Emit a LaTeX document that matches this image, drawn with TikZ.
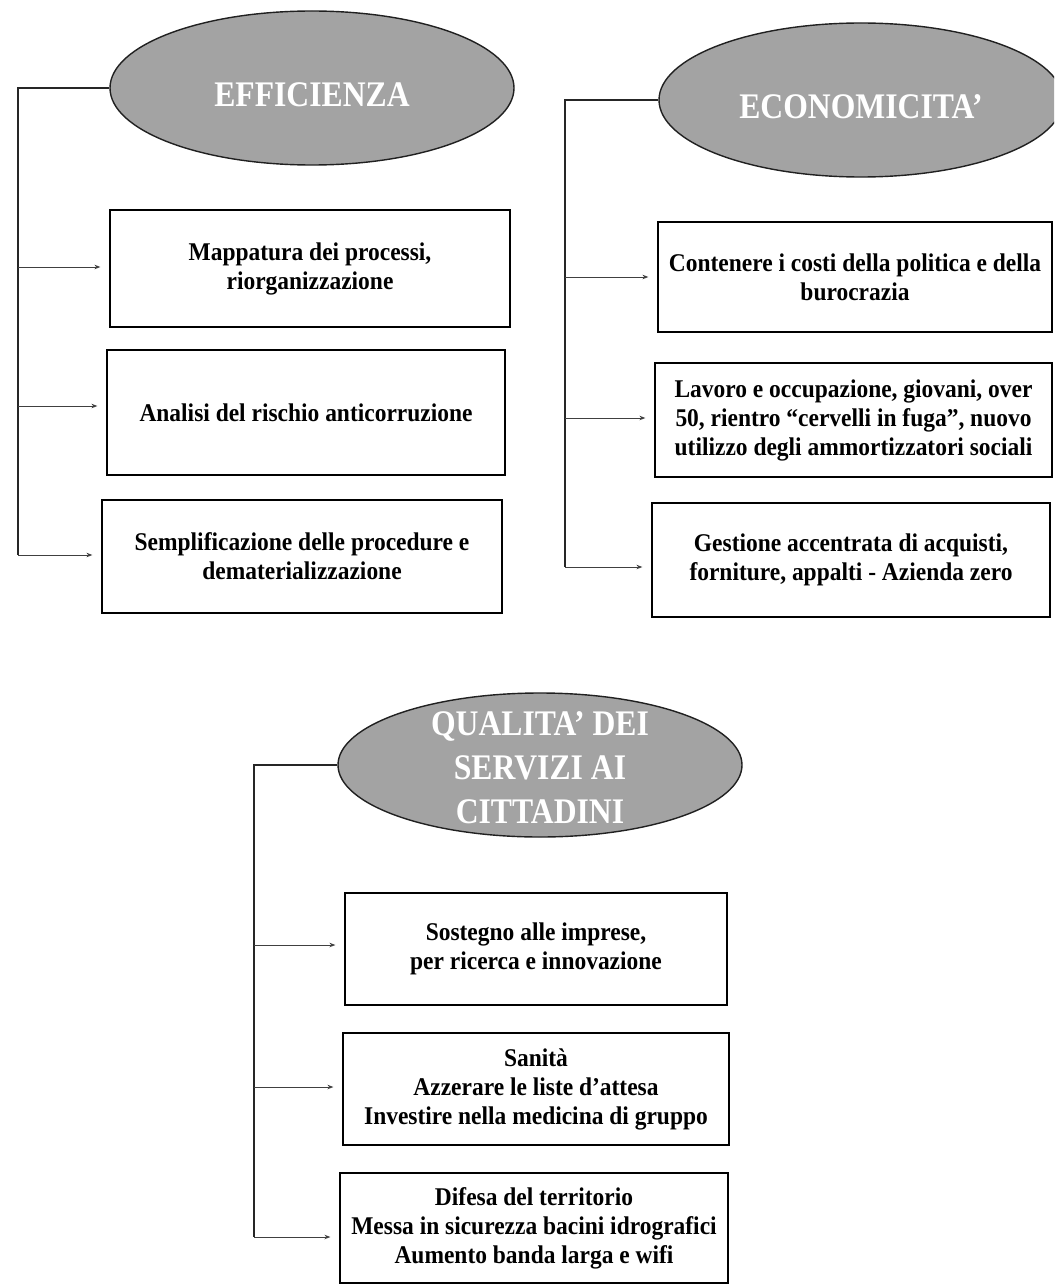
\documentclass[tikz,border=0pt]{standalone}
\usepackage{fontspec}
\setmainfont{Liberation Serif}
\newfontfamily\ovalfont[FakeStretch=0.88]{Liberation Serif}
\newfontfamily\boxfont[FakeStretch=0.92]{Liberation Serif}
\usetikzlibrary{shapes.geometric,arrows.meta}
\begin{document}
\begin{tikzpicture}[x=1pt,y=-1pt,
  oval/.style={ellipse, draw=gray!25!black, line width=1.4pt, fill=gray!72,
    text=white, font=\ovalfont\bfseries\fontsize{36}{44}\selectfont, align=center,
    inner sep=0pt, minimum width=404pt, minimum height=154pt},
  lowtext/.style={text height=38pt, text depth=0pt},
  item/.style={rectangle, draw=black, line width=1.2pt, align=center,
    font=\boxfont\bfseries\fontsize{25.5}{29}\selectfont, inner sep=0pt},
  link/.style={line width=1.1pt, draw=black!85},
  arr/.style={line width=1pt, draw=black!75, -{Stealth[length=6pt,width=4.5pt]}, shorten >=9pt}]
\useasboundingbox (0,0) rectangle (1054,1284);
\clip (0,0) rectangle (1054,1284);

% ---------- EFFICIENZA ----------
\node[oval, lowtext] (e1) at (312,88) {EFFICIENZA};
\node[item, minimum width=400pt, minimum height=117pt] (b11) at (310,268.5)
  {Mappatura dei processi,\\ riorganizzazione};
\node[item, minimum width=398pt, minimum height=125pt] (b12) at (306,412.5)
  {Analisi del rischio anticorruzione};
\node[item, minimum width=400pt, minimum height=113pt] (b13) at (302,556.5)
  {Semplificazione delle procedure e\\ dematerializzazione};
\coordinate (j11) at (18,267);
\coordinate (j12) at (18,406);
\coordinate (j13) at (18,555);
\draw[link] (e1.west) -| (j13);
\draw[arr] (j11) -- (j11 -| b11.west);
\draw[arr] (j12) -- (j12 -| b12.west);
\draw[arr] (j13) -- (j13 -| b13.west);

% ---------- ECONOMICITA' ----------
\node[oval, lowtext] (e2) at (861,100) {ECONOMICITA’};
\node[item, minimum width=394pt, minimum height=110pt] (b21) at (855,277)
  {Contenere i costi della politica e della\\ burocrazia};
\node[item, minimum width=397pt, minimum height=114pt] (b22) at (853.5,420)
  {Lavoro e occupazione, giovani, over\\ 50, rientro “cervelli in fuga”, nuovo\\ utilizzo degli ammortizzatori sociali};
\node[item, minimum width=398pt, minimum height=114pt] (b23) at (851,560)
  {Gestione accentrata di acquisti,\\ forniture, appalti - Azienda zero};
\coordinate (j21) at (565,277);
\coordinate (j22) at (565,418);
\coordinate (j23) at (565,567);
\draw[link] (e2.west) -| (j23);
\draw[arr] (j21) -- (j21 -| b21.west);
\draw[arr] (j22) -- (j22 -| b22.west);
\draw[arr] (j23) -- (j23 -| b23.west);

% ---------- QUALITA' ----------
\node[oval, minimum height=144pt] (e3) at (540,765)
  {\raisebox{-12pt}[0pt][0pt]{\begin{tabular}{@{}c@{}}QUALITA’ DEI\\ SERVIZI AI\\ CITTADINI\end{tabular}}};
\node[item, minimum width=382pt, minimum height=112pt] (b31) at (536,949)
  {Sostegno alle imprese,\\ per ricerca e innovazione};
\node[item, minimum width=386pt, minimum height=112pt] (b32) at (536,1089)
  {Sanità\\ Azzerare le liste d’attesa\\ Investire nella medicina di gruppo};
\node[item, minimum width=388pt, minimum height=110pt] (b33) at (534,1228)
  {Difesa del territorio\\ Messa in sicurezza bacini idrografici\\ Aumento banda larga e wifi};
\coordinate (j31) at (254,945);
\coordinate (j32) at (254,1087);
\coordinate (j33) at (254,1237);
\draw[link] (e3.west) -| (j33);
\draw[arr] (j31) -- (j31 -| b31.west);
\draw[arr] (j32) -- (j32 -| b32.west);
\draw[arr] (j33) -- (j33 -| b33.west);
\end{tikzpicture}
\end{document}
